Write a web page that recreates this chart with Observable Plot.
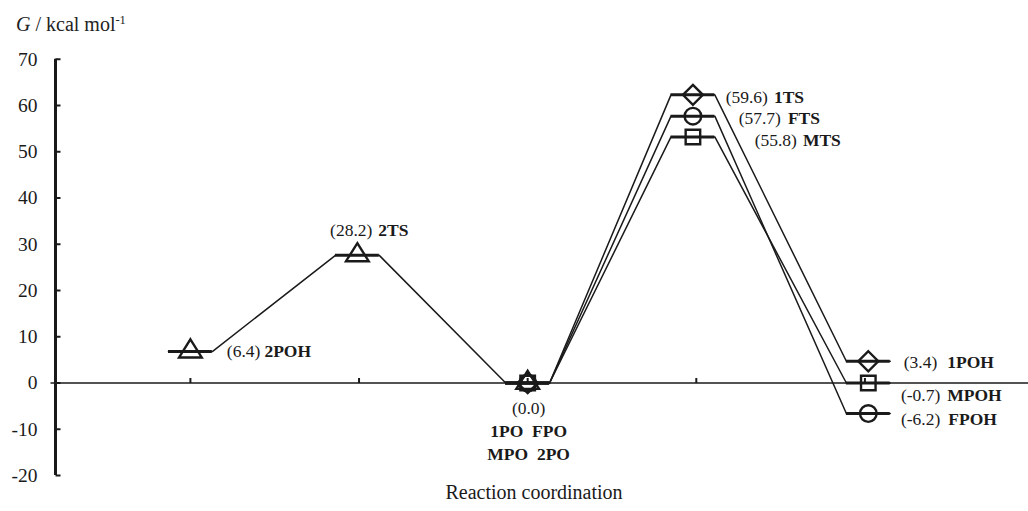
<!DOCTYPE html>
<html><head><meta charset="utf-8">
<script src="https://cdn.jsdelivr.net/npm/d3@7"></script>
<script src="https://cdn.jsdelivr.net/npm/@observablehq/plot@0.6"></script>
<style>
body{margin:0;background:#fff;}
#wrap{position:relative;width:1028px;height:511px;font-family:"Liberation Serif","Times New Roman",serif;color:#222;}
#ytitle{position:absolute;left:16px;top:13px;font-size:20px;line-height:22px;white-space:nowrap;}
#ytitle sup{font-size:12.5px;line-height:0;vertical-align:7px;}
</style></head><body>
<div id="wrap"><div id="ytitle"><i>G</i> / kcal mol<sup>-1</sup></div><div id="chart"></div></div>
<script>
// ---- data ----
const yTicks = [-20, -10, 0, 10, 20, 30, 40, 50, 60, 70];
const xTicks = [1, 2, 3, 4, 5];
const xDomain = [0.2, 5.97];
// pathway 2 (triangles)
const path2X = [1, 1.99, 3];
const path2G = [6.8, 27.6, 0];
const path2Names = ["2POH", "2TS", "2PO"];
// pathways 1, F, M share x positions
const pathX = [3, 3.98, 5.02];
const path1G = [0, 62.3, 4.7];
const pathFG = [0, 57.7, -6.6];
const pathMG = [0, 53.2, 0];
const path1Names = ["1PO", "1TS", "1POH"];
const pathFNames = ["FPO", "FTS", "FPOH"];
const pathMNames = ["MPO", "MTS", "MPOH"];
// labels
const labelNames  = ["2POH", "2TS", "1TS", "FTS", "MTS", "1POH", "MPOH", "FPOH"];
const labelValues = ["(6.4)", "(28.2)", "(59.6)", "(57.7)", "(55.8)", "(3.4)", "(-0.7)", "(-6.2)"];
const centerLines = ["(0.0)", "1PO\u00a0 FPO", "MPO\u00a0\u00a02PO"];
const xTitle = "Reaction coordination";

// ---- styles ----
const ink = "#1a1a1a";
const hw = 0.13; // half plateau width (x units)
const labelOffsets = { // [dxValue, dxName, dy]
  "2POH": [70, 74, 0], "2TS": [15, 21, -25],
  "1TS": [75, 81, 2.5], "FTS": [88, 95, 2.5], "MTS": [104, 110, 3.5],
  "1POH": [69, 79, 1], "MPOH": [72, 79, 12], "FPOH": [72, 80, 6]
};

const mk = (id, xs, gs, names) => xs.map((x, i) => ({series: id, x, g: gs[i], name: names[i]}));
const pts = [
  ...mk("2", path2X, path2G, path2Names),
  ...mk("1", pathX, path1G, path1Names),
  ...mk("F", pathX, pathFG, pathFNames),
  ...mk("M", pathX, pathMG, pathMNames)
];
const linePts = pts.flatMap(d => [{series: d.series, x: d.x - hw, g: d.g}, {series: d.series, x: d.x + hw, g: d.g}]);

const tri = {draw(c, size){ const k = Math.sqrt(size / Math.PI); c.moveTo(0, -1.45*k); c.lineTo(1.35*k, 0.7*k); c.lineTo(-1.35*k, 0.7*k); c.closePath(); }};
const upTick = {draw(c){ c.moveTo(0, 0); c.lineTo(0, -5); }};
const rightTick = {draw(c){ c.moveTo(0, 0); c.lineTo(5, 0); }};
const leftTick = {draw(c){ c.moveTo(0, 0); c.lineTo(-5, 0); }};

const symbolFor = {"2": [tri, 8.4], "1": ["diamond2", 9], "F": ["circle", 8.3], "M": ["square", 8.2]};

const byName = Object.fromEntries(pts.map(d => [d.name, d]));
const labelMarks = labelNames.flatMap((n, i) => {
  const p = byName[n], o = labelOffsets[n];
  return [
    Plot.text([p], {x: "x", y: "g", text: () => labelValues[i], textAnchor: "end", dx: o[0], dy: o[2], fill: ink}),
    Plot.text([p], {x: "x", y: "g", text: () => n, textAnchor: "start", dx: o[1], dy: o[2], fill: ink, fontWeight: "bold"})
  ];
});
const c0 = byName["2PO"];
const centerMarks = centerLines.map((t, i) => Plot.text([c0], {x: "x", y: "g", text: () => t, dy: 25 + 23 * i, dx: 1, fill: ink, fontWeight: i ? "bold" : "normal"}));

const chart = Plot.plot({
  width: 1028, height: 511,
  marginLeft: 55, marginRight: 0, marginTop: 58.75, marginBottom: 36,
  x: {domain: xDomain, axis: null},
  y: {domain: [-20, 70], axis: null},
  style: {fontFamily: "'Liberation Serif','Times New Roman',serif", fontSize: "17.5px", color: ink, background: "#fff", overflow: "visible"},
  marks: [
    Plot.ruleY([0], {stroke: ink, strokeWidth: 1.5}),
    Plot.dot([0], {y: d => d, frameAnchor: "left", symbol: leftTick, stroke: ink, strokeWidth: 1.5}),
    Plot.ruleX([xDomain[0]], {y1: -20, y2: 70, stroke: ink, strokeWidth: 3}),
    Plot.dot(yTicks, {y: d => d, frameAnchor: "left", symbol: rightTick, stroke: ink, strokeWidth: 2}),
    Plot.text(yTicks, {y: d => d, frameAnchor: "left", text: d => String(d), textAnchor: "end", dx: -18, fontSize: 19.5, fill: ink}),
    Plot.dot(xTicks, {x: d => d, y: 0, symbol: upTick, stroke: ink, strokeWidth: 2}),
    Plot.line(linePts, {x: "x", y: "g", z: "series", stroke: ink, strokeWidth: 1.5}),
    Plot.ruleY(pts, {y: "g", x1: d => d.x - hw, x2: d => d.x + hw, stroke: ink, strokeWidth: 3}),
    ...["2", "1", "F", "M"].map(s => Plot.dot(pts.filter(d => d.series === s), {x: "x", y: "g", symbol: symbolFor[s][0], r: symbolFor[s][1], fill: "none", stroke: ink, strokeWidth: 2.4})),
    ...labelMarks,
    ...centerMarks,
    Plot.text([xTitle], {frameAnchor: "bottom", text: d => d, dy: 23, dx: -8, fontSize: 20, fill: ink})
  ]
});
document.getElementById("chart").appendChild(chart);
</script>
</body></html>
